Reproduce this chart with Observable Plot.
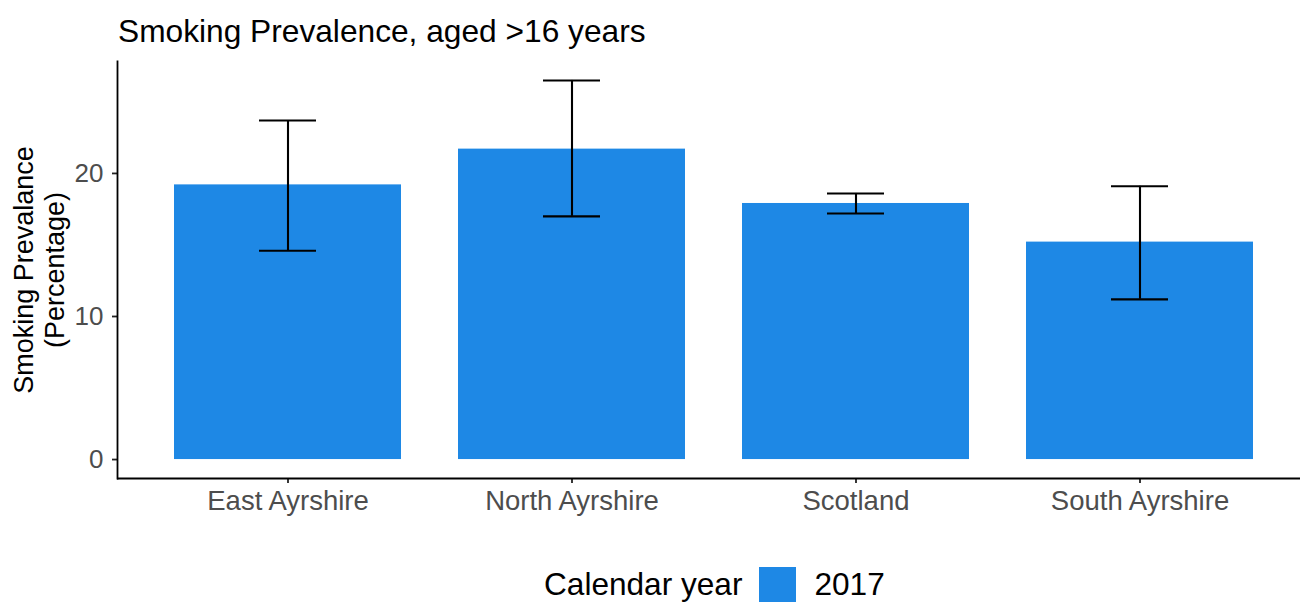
<!DOCTYPE html>
<html>
<head>
<meta charset="utf-8">
<script src="https://cdn.jsdelivr.net/npm/d3@7"></script>
<script src="https://cdn.jsdelivr.net/npm/@observablehq/plot@0.6"></script>
<style>
  html, body { margin: 0; padding: 0; background: white; }
  #wrap { position: relative; width: 1300px; height: 603px; overflow: hidden; font-family: "Liberation Sans", Arial, sans-serif; }
  #title { position: absolute; left: 118px; top: 15px; font-size: 31.7px; line-height: 32px; color: #000; white-space: nowrap; z-index: 2; }
  #chart { position: absolute; left: 0; top: 0; }
  #legend { position: absolute; left: 544px; top: 566px; height: 36px; display: flex; align-items: center; font-size: 31.6px; color: #000; white-space: nowrap; z-index: 2; }
  #legend .sw { width: 37px; height: 35px; margin: 0 18px 0 17px; }
</style>
</head>
<body>
<div id="wrap">
  <div id="title"></div>
  <div id="chart"></div>
  <div id="legend"></div>
</div>
<script>
const titleText = "Smoking Prevalence, aged >16 years";
const yTitle = "Smoking Prevalance\n(Percentage)";
const legendTitle = "Calendar year";
const yearLabel = "2017";
const regions = ["East Ayrshire", "North Ayrshire", "Scotland", "South Ayrshire"];
const prevalence = [19.2, 21.7, 17.9, 15.2];
const lower = [14.6, 17.0, 17.2, 11.2];
const upper = [23.7, 26.5, 18.6, 19.1];
const yTicks = [0, 10, 20];
const barColor = "#1E88E5";

const data = regions.map((r, i) => ({region: r, value: prevalence[i], lo: lower[i], hi: upper[i]}));

const yMax = d3.max(upper), yMin = 0;
const pad = 0.05 * (yMax - yMin);

document.getElementById("title").textContent = titleText;
const legend = document.getElementById("legend");
legend.innerHTML = `<span>${legendTitle}</span><span class="sw" style="background:${barColor}"></span><span>${yearLabel}</span>`;

const chart = Plot.plot({
  width: 1300,
  height: 530,
  marginTop: 61,
  marginBottom: 52,
  marginLeft: 117,
  marginRight: 0,
  style: {fontFamily: "'Liberation Sans', Arial, sans-serif", background: "white", overflow: "visible"},
  x: {domain: regions, range: [117, 1311], padding: 0.2, label: null},
  y: {domain: [yMin - pad, yMax + pad], label: null},
  marks: [
    Plot.barY(data, {x: "region", y1: 0, y2: "value", fill: barColor}),
    Plot.ruleX(data, {x: "region", y1: "lo", y2: "hi", stroke: "black", strokeWidth: 2.1}),
    Plot.tickY(data, {x: "region", y: "lo", stroke: "black", strokeWidth: 2.1, insetLeft: 85, insetRight: 85}),
    Plot.tickY(data, {x: "region", y: "hi", stroke: "black", strokeWidth: 2.1, insetLeft: 85, insetRight: 85}),
    Plot.axisY({ticks: yTicks, tickSize: 5, tickPadding: 9, fontSize: 26, fill: "#4d4d4d", stroke: "#222", strokeWidth: 1.8, label: null}),
    Plot.axisX({tickSize: 5, tickPadding: 7, fontSize: 27.5, fill: "#4d4d4d", stroke: "#222", strokeWidth: 1.8, label: null}),
    Plot.ruleY([yMin - pad], {stroke: "black", strokeWidth: 1.8}),
    Plot.frame({anchor: "left", stroke: "black", strokeWidth: 1.8}),
    Plot.text([yTitle], {frameAnchor: "left", textAnchor: "middle", rotate: -90, dx: -79, fontSize: 27, lineHeight: 1.15, fill: "black", text: d => d})
  ]
});
document.getElementById("chart").appendChild(chart);
</script>
</body>
</html>
